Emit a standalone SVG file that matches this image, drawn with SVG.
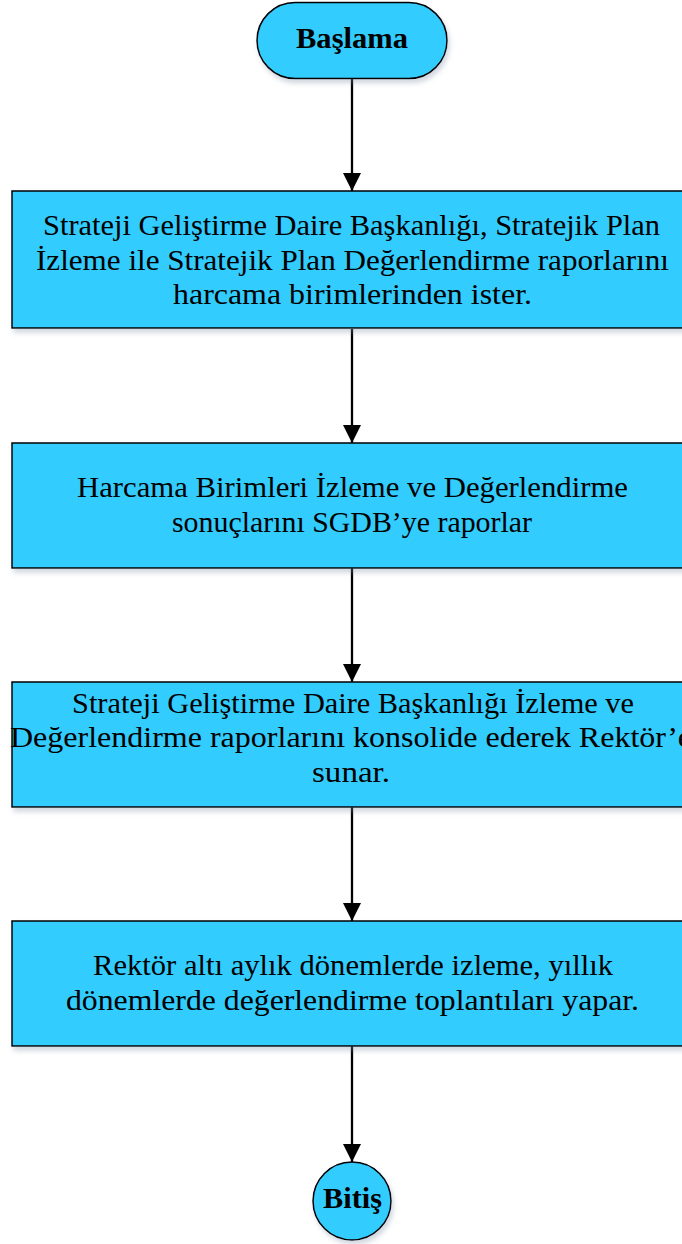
<svg xmlns="http://www.w3.org/2000/svg" width="682" height="1244" viewBox="0 0 682 1244">
<style>
.shape{fill:#33CCFF;stroke:#000;stroke-width:1.5;filter:url(#sh)}
.t{font-family:"Liberation Serif","Times New Roman",serif;font-size:30px;fill:#000;text-anchor:middle}
.b{font-weight:bold}
.conn{stroke:#000;stroke-width:2.3;fill:none;marker-end:url(#ah)}
</style>
<defs>
<filter id="sh" x="-10%" y="-10%" width="130%" height="140%">
<feDropShadow dx="2" dy="4" stdDeviation="2.5" flood-color="#7f8fa6" flood-opacity="0.35"/>
</filter>
<marker id="ah" viewBox="0 0 18 18" refX="18" refY="9" markerWidth="18" markerHeight="18" markerUnits="userSpaceOnUse" orient="auto">
<path d="M0,0 L18,9 L0,18 Z" fill="#000"/>
</marker>
</defs>
<rect width="682" height="1244" fill="#fff"/>
<g id="connectors">
<line class="conn" x1="352" y1="79" x2="352" y2="191"/>
<line class="conn" x1="352" y1="329" x2="352" y2="443"/>
<line class="conn" x1="352" y1="568" x2="352" y2="682"/>
<line class="conn" x1="352" y1="807" x2="352" y2="921"/>
<line class="conn" x1="352" y1="1046" x2="352" y2="1162"/>
</g>
<g id="start">
<rect class="shape" x="257" y="2.5" width="190" height="76" rx="38" ry="38"/>
<text class="t b" x="352" y="48" textLength="112" lengthAdjust="spacingAndGlyphs">Başlama</text>
</g>
<g id="step1">
<rect class="shape" x="12" y="191" width="678" height="137"/>
<text class="t" x="351.5" y="235" textLength="617" lengthAdjust="spacingAndGlyphs">Strateji Geliştirme Daire Başkanlığı, Stratejik Plan</text>
<text class="t" x="352.5" y="270" textLength="633" lengthAdjust="spacingAndGlyphs">İzleme ile Stratejik Plan Değerlendirme raporlarını</text>
<text class="t" x="352.5" y="304" textLength="359" lengthAdjust="spacingAndGlyphs">harcama birimlerinden ister.</text>
</g>
<g id="step2">
<rect class="shape" x="12" y="443" width="678" height="125"/>
<text class="t" x="352.5" y="497" textLength="551" lengthAdjust="spacingAndGlyphs">Harcama Birimleri İzleme ve Değerlendirme</text>
<text class="t" x="352" y="532" textLength="360" lengthAdjust="spacingAndGlyphs">sonuçlarını SGDB’ye raporlar</text>
</g>
<g id="step3">
<rect class="shape" x="12" y="682" width="678" height="125"/>
<text class="t" x="353" y="713" textLength="562" lengthAdjust="spacingAndGlyphs">Strateji Geliştirme Daire Başkanlığı İzleme ve</text>
<text class="t" x="351" y="747" textLength="682" lengthAdjust="spacingAndGlyphs">Değerlendirme raporlarını konsolide ederek Rektör’e</text>
<text class="t" x="351" y="782" textLength="78" lengthAdjust="spacingAndGlyphs">sunar.</text>
</g>
<g id="step4">
<rect class="shape" x="12" y="921" width="678" height="125"/>
<text class="t" x="353" y="975" textLength="520" lengthAdjust="spacingAndGlyphs">Rektör altı aylık dönemlerde izleme, yıllık</text>
<text class="t" x="352.5" y="1010" textLength="573" lengthAdjust="spacingAndGlyphs">dönemlerde değerlendirme toplantıları yapar.</text>
</g>
<g id="end">
<circle class="shape" cx="352" cy="1201" r="39"/>
<text class="t b" x="352.5" y="1208" textLength="59" lengthAdjust="spacingAndGlyphs">Bitiş</text>
</g>
</svg>
